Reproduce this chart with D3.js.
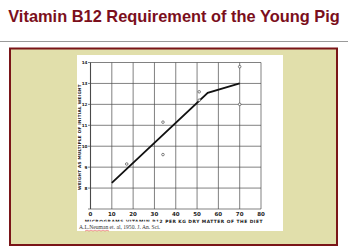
<!DOCTYPE html>
<html>
<head>
<meta charset="utf-8">
<script src="https://cdn.jsdelivr.net/npm/d3@7"></script>
<style>
  body { margin: 0; background: #fff; }
  svg { display: block; }
</style>
</head>
<body>
<div id="chart"></div>
<script>
// Data
const lineDose = [10, 55, 70];
const lineWeight = [8.25, 12.55, 13.0];
const pointDose = [17, 34, 34, 51, 51, 70, 70];
const pointWeight = [9.15, 9.6, 11.15, 12.2, 12.6, 13.8, 12.0];
const xTicks = [0, 10, 20, 30, 40, 50, 60, 70, 80];
const yTicks = [8, 9, 10, 11, 12, 13, 14];

const W = 348, H = 246;
const svg = d3.select("#chart").append("svg")
    .attr("width", W)
    .attr("height", H);

// Slide title
svg.append("text")
    .attr("x", 174).attr("y", 21.5)
    .attr("text-anchor", "middle")
    .attr("font-family", "Liberation Sans, Arial, sans-serif")
    .attr("font-weight", "bold")
    .attr("font-size", 16.4)
    .attr("fill", "#7b0f1c")
    .text("Vitamin B12 Requirement of the Young Pig");

svg.append("line")
    .attr("x1", 0).attr("x2", W)
    .attr("y1", 41.5).attr("y2", 41.5)
    .attr("stroke", "#9a9a9a").attr("stroke-width", 1);

// Panel
svg.append("rect")
    .attr("x", 10).attr("y", 48.5)
    .attr("width", 327).attr("height", 196.5)
    .attr("fill", "#e1dfab")
    .attr("stroke", "#7a1518").attr("stroke-width", 2);

// Scanned figure area
svg.append("rect")
    .attr("x", 77).attr("y", 55)
    .attr("width", 206).attr("height", 176)
    .attr("fill", "#ffffff");

const x = d3.scaleLinear().domain([0, 80]).range([90.5, 261]);
const y = d3.scaleLinear().domain([7, 14]).range([209, 62.5]);

const g = svg.append("g");

// Grid
g.selectAll("line.vg")
    .data(xTicks)
    .join("line")
    .attr("class", "vg")
    .attr("x1", d => x(d)).attr("x2", d => x(d))
    .attr("y1", y(14)).attr("y2", y(7))
    .attr("stroke", "#4a4a4a")
    .attr("stroke-width", d => d === 0 ? 1.1 : 0.7);

g.selectAll("line.hg")
    .data(yTicks.concat([7]))
    .join("line")
    .attr("class", "hg")
    .attr("x1", x(0) - 2.5).attr("x2", x(80))
    .attr("y1", d => y(d)).attr("y2", d => y(d))
    .attr("stroke", "#4a4a4a")
    .attr("stroke-width", 0.7);

// Tick labels
g.selectAll("text.yt")
    .data(yTicks)
    .join("text")
    .attr("class", "yt")
    .attr("x", x(0) - 3)
    .attr("y", d => y(d) + 1.5)
    .attr("text-anchor", "end")
    .attr("font-family", "DejaVu Sans, sans-serif")
    .attr("font-weight", "bold")
    .attr("font-size", 4.2)
    .attr("fill", "#222")
    .text(d => d);

g.selectAll("text.xt")
    .data(xTicks)
    .join("text")
    .attr("class", "xt")
    .attr("x", d => x(d))
    .attr("y", 216)
    .attr("text-anchor", "middle")
    .attr("font-family", "DejaVu Sans, sans-serif")
    .attr("font-weight", "bold")
    .attr("font-size", 5.5)
    .attr("fill", "#222")
    .text(d => d);

// Axis titles
g.append("text")
    .attr("transform", "translate(80.5,137) rotate(-90)")
    .attr("text-anchor", "middle")
    .attr("font-family", "DejaVu Sans, sans-serif")
    .attr("font-weight", "bold")
    .attr("font-size", 4.1)
    .attr("letter-spacing", 0.3)
    .attr("fill", "#222")
    .text("WEIGHT AS MULTIPLE OF INITIAL WEIGHT");

g.append("text")
    .attr("x", x(80) + 2)
    .attr("y", 223)
    .attr("text-anchor", "end")
    .attr("font-family", "DejaVu Sans, sans-serif")
    .attr("font-weight", "bold")
    .attr("font-size", 4.4)
    .attr("letter-spacing", 0.5)
    .attr("fill", "#222")
    .text("MICROGRAMS VITAMIN B12 PER KG DRY MATTER OF THE DIET");

// Citation pasted over the left part of the axis title
svg.append("rect")
    .attr("x", 77).attr("y", 221.5)
    .attr("width", 82).attr("height", 9.5)
    .attr("fill", "#ffffff");

svg.append("text")
    .attr("x", 79).attr("y", 229)
    .attr("font-family", "Liberation Serif, Times New Roman, serif")
    .attr("font-size", 5.6)
    .attr("fill", "#333")
    .text("A.L.Neuman et. al, 1950. J. An. Sci.");

svg.append("path")
    .attr("d", d3.range(85, 110, 2).map((v, i) => (i ? "L" : "M") + v + "," + (i % 2 ? 230.2 : 231)).join(""))
    .attr("fill", "none")
    .attr("stroke", "#e03030")
    .attr("stroke-width", 0.5);

// Fitted line
const line = d3.line()
    .x(d => x(d[0]))
    .y(d => y(d[1]));

g.append("path")
    .datum(d3.zip(lineDose, lineWeight))
    .attr("d", line)
    .attr("fill", "none")
    .attr("stroke", "#111")
    .attr("stroke-width", 1.8);

// Observations
g.selectAll("circle.pt")
    .data(d3.zip(pointDose, pointWeight))
    .join("circle")
    .attr("class", "pt")
    .attr("cx", d => x(d[0]))
    .attr("cy", d => y(d[1]))
    .attr("r", 1.3)
    .attr("fill", "#fff")
    .attr("stroke", "#333")
    .attr("stroke-width", 0.6);
</script>
</body>
</html>
